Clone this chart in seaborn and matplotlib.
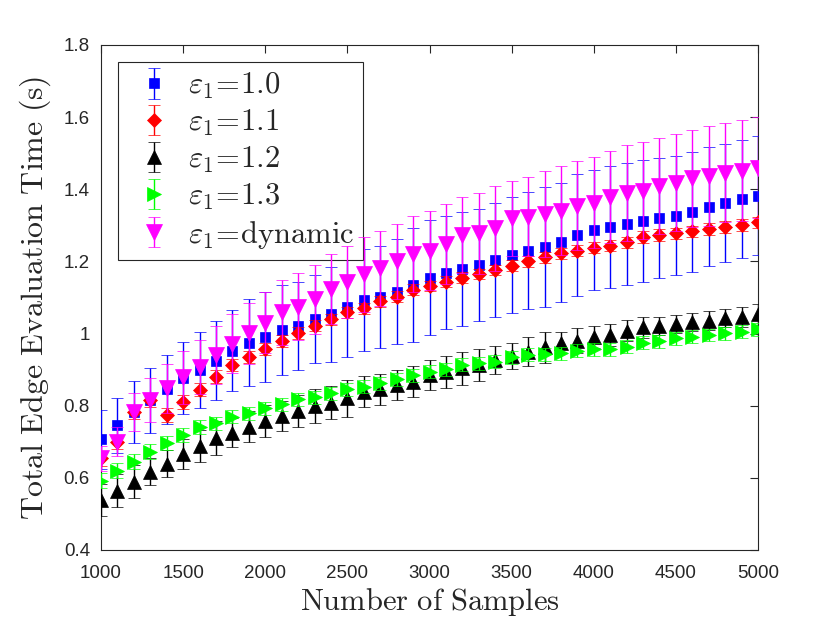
import numpy as np
import matplotlib
matplotlib.use("Agg")
import matplotlib.pyplot as plt
import seaborn as sns

# ---- data ----
samples = [1000, 1100, 1200, 1300, 1400, 1500, 1600, 1700, 1800, 1900,
           2000, 2100, 2200, 2300, 2400, 2500, 2600, 2700, 2800, 2900,
           3000, 3100, 3200, 3300, 3400, 3500, 3600, 3700, 3800, 3900,
           4000, 4100, 4200, 4300, 4400, 4500, 4600, 4700, 4800, 4900, 5000]

eps_10 = [0.707, 0.746, 0.782, 0.815, 0.845, 0.877, 0.899, 0.925, 0.953, 0.975,
          0.991, 1.010, 1.022, 1.040, 1.053, 1.073, 1.093, 1.102, 1.116, 1.135,
          1.155, 1.169, 1.178, 1.191, 1.204, 1.218, 1.230, 1.240, 1.253, 1.273,
          1.287, 1.295, 1.304, 1.312, 1.320, 1.327, 1.338, 1.352, 1.361, 1.373, 1.382]
err_10 = [0.082, 0.076, 0.086, 0.090, 0.095, 0.100, 0.105, 0.110, 0.113, 0.120,
          0.124, 0.124, 0.122, 0.122, 0.131, 0.137, 0.142, 0.142, 0.145, 0.158,
          0.160, 0.157, 0.158, 0.155, 0.158, 0.160, 0.163, 0.165, 0.165, 0.168,
          0.167, 0.169, 0.170, 0.168, 0.167, 0.166, 0.166, 0.164, 0.164, 0.164, 0.165]

eps_11 = [0.654, 0.700, 0.782, 0.816, 0.774, 0.811, 0.844, 0.880, 0.913, 0.936,
          0.957, 0.979, 1.001, 1.022, 1.040, 1.059, 1.070, 1.090, 1.102, 1.121,
          1.132, 1.144, 1.155, 1.165, 1.176, 1.188, 1.200, 1.211, 1.223, 1.230,
          1.238, 1.243, 1.253, 1.267, 1.273, 1.278, 1.283, 1.290, 1.296, 1.301, 1.308]
err_11 = [0.020, 0.020, 0.020, 0.020, 0.020, 0.020, 0.018, 0.018, 0.017, 0.017,
          0.016, 0.016, 0.016, 0.016, 0.015, 0.015, 0.015, 0.015, 0.015, 0.015,
          0.015, 0.015, 0.015, 0.015, 0.015, 0.015, 0.015, 0.015, 0.015, 0.015,
          0.015, 0.015, 0.015, 0.016, 0.016, 0.016, 0.016, 0.016, 0.016, 0.016, 0.016]

eps_12 = [0.539, 0.564, 0.589, 0.617, 0.639, 0.666, 0.689, 0.710, 0.725, 0.742,
          0.758, 0.772, 0.786, 0.799, 0.808, 0.820, 0.839, 0.845, 0.857, 0.867,
          0.885, 0.894, 0.904, 0.913, 0.927, 0.938, 0.950, 0.962, 0.975, 0.980,
          0.991, 0.996, 1.008, 1.017, 1.021, 1.027, 1.033, 1.036, 1.042, 1.047, 1.053]
err_12 = [0.045, 0.046, 0.046, 0.037, 0.038, 0.042, 0.044, 0.047, 0.040, 0.042,
          0.044, 0.042, 0.044, 0.048, 0.046, 0.050, 0.043, 0.043, 0.042, 0.044,
          0.042, 0.044, 0.046, 0.044, 0.039, 0.035, 0.040, 0.043, 0.030, 0.035,
          0.030, 0.031, 0.030, 0.030, 0.026, 0.025, 0.025, 0.027, 0.025, 0.028, 0.029]

eps_13 = [0.592, 0.620, 0.645, 0.673, 0.697, 0.719, 0.740, 0.751, 0.770, 0.779,
          0.793, 0.804, 0.818, 0.823, 0.834, 0.846, 0.853, 0.862, 0.873, 0.885,
          0.894, 0.901, 0.913, 0.918, 0.922, 0.934, 0.941, 0.943, 0.945, 0.953,
          0.956, 0.956, 0.964, 0.975, 0.978, 0.987, 0.991, 0.996, 1.001, 1.005, 1.012]
err_13 = [0.021, 0.020, 0.020, 0.020, 0.019, 0.019, 0.019, 0.018, 0.018, 0.018,
          0.018, 0.018, 0.018, 0.018, 0.018, 0.018, 0.018, 0.018, 0.018, 0.018,
          0.018, 0.018, 0.018, 0.018, 0.018, 0.018, 0.018, 0.018, 0.018, 0.018,
          0.018, 0.018, 0.018, 0.018, 0.018, 0.018, 0.018, 0.018, 0.018, 0.018, 0.018]

eps_dyn = [0.654, 0.700, 0.782, 0.816, 0.848, 0.879, 0.908, 0.941, 0.972, 1.001,
           1.030, 1.059, 1.075, 1.095, 1.123, 1.144, 1.165, 1.181, 1.200, 1.221,
           1.230, 1.248, 1.273, 1.278, 1.292, 1.320, 1.324, 1.332, 1.341, 1.354,
           1.363, 1.378, 1.389, 1.396, 1.409, 1.418, 1.430, 1.437, 1.446, 1.452, 1.460]
err_dyn = [0.035, 0.040, 0.053, 0.060, 0.068, 0.074, 0.075, 0.080, 0.082, 0.085,
           0.085, 0.090, 0.092, 0.095, 0.097, 0.100, 0.104, 0.104, 0.104, 0.105,
           0.110, 0.111, 0.105, 0.113, 0.118, 0.104, 0.109, 0.120, 0.124, 0.123,
           0.127, 0.128, 0.133, 0.135, 0.133, 0.134, 0.134, 0.138, 0.137, 0.139, 0.141]

labels = [r"$\varepsilon_1\!=\!\mathrm{1.0}$", r"$\varepsilon_1\!=\!\mathrm{1.1}$",
          r"$\varepsilon_1\!=\!\mathrm{1.2}$", r"$\varepsilon_1\!=\!\mathrm{1.3}$",
          r"$\varepsilon_1\!=\!\mathrm{dynamic}$"]

# ---- style ----
sns.set_style("white")
plt.rcParams["font.family"] = ["Liberation Sans", "DejaVu Sans"]
plt.rcParams["mathtext.fontset"] = "cm"

series = [
    (eps_10, err_10, "s", "#0000ff", 7.5),
    (eps_11, err_11, "D", "#ff0000", 7.0),
    (eps_12, err_12, "^", "#000000", 10.5),
    (eps_13, err_13, ">", "#00ff00", 10.5),
    (eps_dyn, err_dyn, "v", "#ff00ff", 11),
]

fig = plt.figure(figsize=(8.3, 6.23), dpi=100)
ax = fig.add_axes([0.1217, 0.1172, 0.7916, 0.8106])

for i, (vals, errs, mk, col, ms) in enumerate(series):
    ax.errorbar(samples, vals, yerr=errs, fmt=mk, color=col, ecolor=col,
                markersize=ms, markeredgewidth=0.5, elinewidth=1.0,
                capsize=4, capthick=1.0, label=labels[i], zorder=3 + i)

ax.set_xlim(1000, 5000)
ax.set_ylim(0.4, 1.8)
ax.set_xticks([1000, 1500, 2000, 2500, 3000, 3500, 4000, 4500, 5000])
ax.set_yticks([0.4, 0.6, 0.8, 1.0, 1.2, 1.4, 1.6, 1.8])
ax.set_yticklabels(["0.4", "0.6", "0.8", "1", "1.2", "1.4", "1.6", "1.8"])

ax.tick_params(direction="in", length=6, width=0.8, top=True, right=True,
               labelsize=13.5, colors="#262626")
ax.tick_params(axis="x", pad=11)
ax.tick_params(axis="y", pad=8)
for sp in ax.spines.values():
    sp.set_visible(True)
    sp.set_color("#262626")
    sp.set_linewidth(0.8)

ax.set_xlabel(r"$\mathrm{Number\ of\ Samples}$", fontsize=22, labelpad=3)
ax.set_ylabel(r"$\mathrm{Total\ Edge\ Evaluation\ Time\ (s)}$", fontsize=23, labelpad=8)

leg = ax.legend(loc="upper left", fontsize=22, frameon=True, fancybox=False,
                edgecolor="#262626", framealpha=1, borderpad=0.3,
                labelspacing=0.22, handletextpad=0.2, handlelength=1.8,
                borderaxespad=0.55)
leg.get_frame().set_linewidth(0.8)

fig.savefig("out.png", dpi=100)
